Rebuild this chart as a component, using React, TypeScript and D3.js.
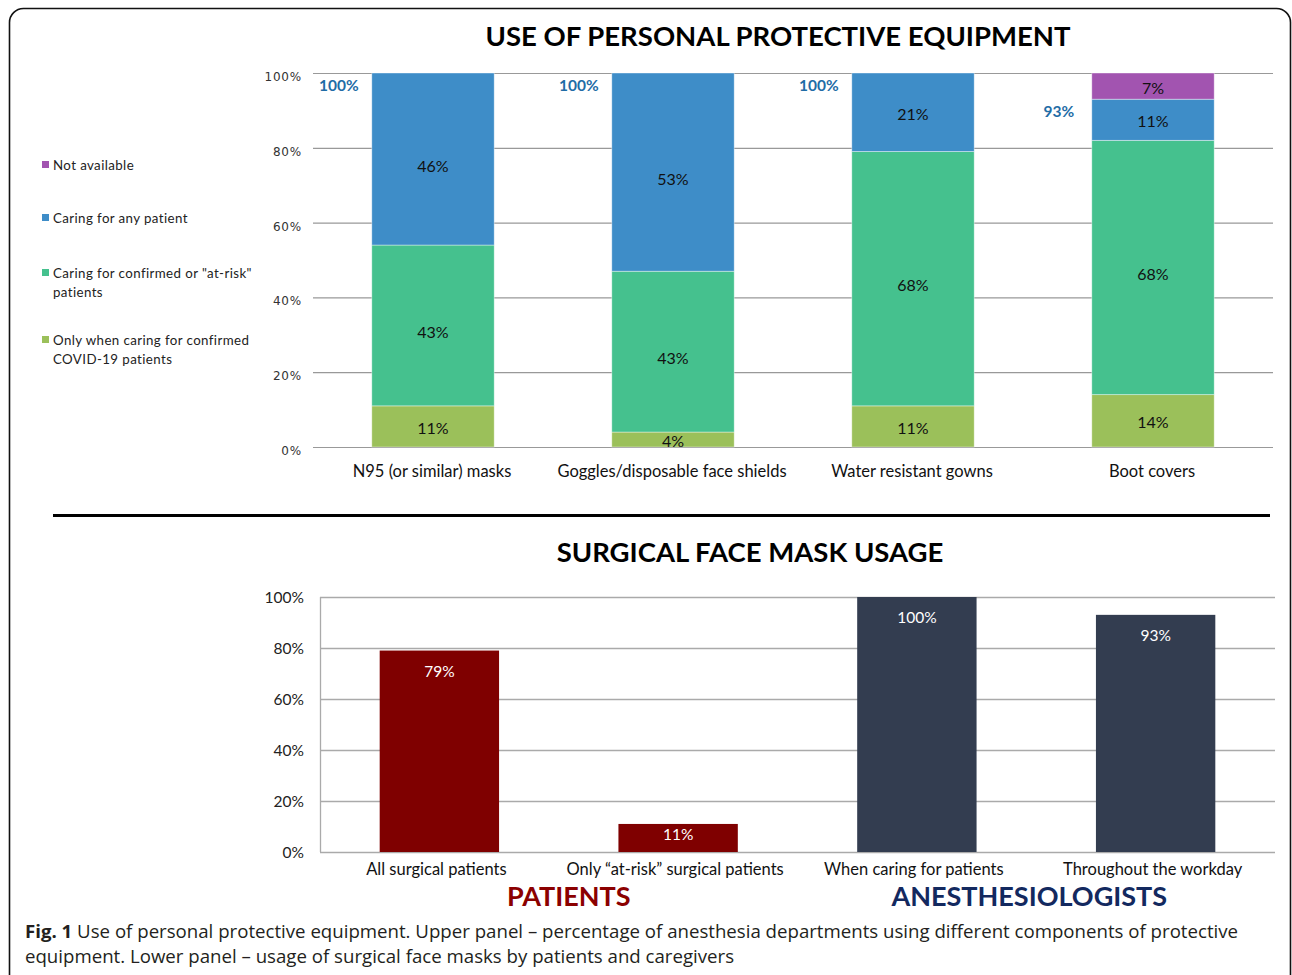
import { useEffect, useRef } from "react"
import * as d3 from "d3"

// upper panel
const ppeCategories = ["N95 (or similar) masks", "Goggles/disposable face shields", "Water resistant gowns", "Boot covers"]
const onlyConfirmed = [11, 4, 11, 14]
const confirmedOrAtRisk = [43, 43, 68, 68]
const anyPatient = [46, 53, 21, 11]
const notAvailable = [0, 0, 0, 7]
const ppeTotals = [100, 100, 100, 93]
const legendLabels = [
  ["Not available"],
  ["Caring for any patient"],
  ['Caring for confirmed or "at-risk"', "patients"],
  ["Only when caring for confirmed", "COVID-19 patients"],
]
const pctTicks = [0, 20, 40, 60, 80, 100]

// lower panel
const maskCategories = ["All surgical patients", "Only \u201cat-risk\u201d surgical patients", "When caring for patients", "Throughout the workday"]
const maskValues = [79, 11, 100, 93]
const maskGroups = ["PATIENTS", "ANESTHESIOLOGISTS"]

const W = 1292
const H = 975
const calibri = "Lato, 'Open Sans', sans-serif"

export default function App() {
  const svgRef = useRef<SVGSVGElement>(null)

  useEffect(() => {
    if (!svgRef.current) return
    const svg = d3.select(svgRef.current)
    svg.selectAll("*").remove()

    // frame
    svg
      .append("rect")
      .attr("x", 9.5)
      .attr("y", 8.5)
      .attr("width", 1281)
      .attr("height", 990)
      .attr("rx", 14)
      .attr("fill", "#fff")
      .attr("stroke", "#111")
      .attr("stroke-width", 1.6)

    // ---------- upper panel: stacked bars ----------
    const x1 = d3.scaleBand().domain(ppeCategories).range([313, 1273]).paddingInner(0.49).paddingOuter(0.245)
    const y1 = d3.scaleLinear().domain([0, 100]).range([447, 73])

    svg
      .append("text")
      .attr("x", 778)
      .attr("y", 46)
      .attr("text-anchor", "middle")
      .attr("font-family", calibri)
      .attr("font-weight", 700)
      .attr("font-size", 27.5)
      .attr("fill", "#000")
      .text("USE OF PERSONAL PROTECTIVE EQUIPMENT")

    const g1 = svg.append("g")
    g1.selectAll("line.grid")
      .data(pctTicks)
      .enter()
      .append("line")
      .attr("x1", 313)
      .attr("x2", 1273)
      .attr("y1", (d) => y1(d) + 0.5)
      .attr("y2", (d) => y1(d) + 0.5)
      .attr("stroke", "#999")
      .attr("stroke-width", 1.2)

    g1.selectAll("text.tick")
      .data(pctTicks)
      .enter()
      .append("text")
      .attr("x", 302)
      .attr("y", (d) => y1(d) + 4)
      .attr("text-anchor", "end")
      .attr("dominant-baseline", "central")
      .attr("font-family", "'DejaVu Sans', sans-serif")
      .attr("font-size", 12)
      .attr("letter-spacing", 0.8)
      .attr("fill", "#333")
      .text((d) => d + "%")

    const series = [
      { key: "notAvailable", values: notAvailable, color: "#A254B0" },
      { key: "anyPatient", values: anyPatient, color: "#3E8DC8" },
      { key: "confirmedOrAtRisk", values: confirmedOrAtRisk, color: "#45C18E" },
      { key: "onlyConfirmed", values: onlyConfirmed, color: "#9BC05A" },
    ]
    const stackOrder = [series[3], series[2], series[1], series[0]]
    const rows = ppeCategories.map((c, i) => {
      const row: any = { cat: c }
      series.forEach((s) => (row[s.key] = s.values[i]))
      return row
    })
    const stacked = d3.stack().keys(stackOrder.map((s) => s.key))(rows)

    stacked.forEach((layer, li) => {
      const color = stackOrder[li].color
      const lg = g1.append("g")
      layer.forEach((seg, i) => {
        const v = seg[1] - seg[0]
        if (v <= 0) return
        const bx = x1(ppeCategories[i])!
        lg.append("rect")
          .attr("x", bx)
          .attr("y", y1(seg[1]))
          .attr("width", x1.bandwidth())
          .attr("height", y1(seg[0]) - y1(seg[1]))
          .attr("fill", color)
          .attr("stroke", "rgba(255,255,255,0.5)")
          .attr("stroke-width", 0.8)
        lg.append("text")
          .attr("x", bx + x1.bandwidth() / 2)
          .attr("y", (y1(seg[0]) + y1(seg[1])) / 2 + (v > 40 ? 6 : 1))
          .attr("text-anchor", "middle")
          .attr("dominant-baseline", "central")
          .attr("font-family", calibri)
          .attr("font-size", 16)
          .attr("fill", "#111")
          .text(v + "%")
      })
    })

    // totals
    g1.selectAll("text.total")
      .data(ppeTotals)
      .enter()
      .append("text")
      .attr("x", (_, i) => x1(ppeCategories[i])! - 33)
      .attr("y", (d) => y1(d) + 12)
      .attr("text-anchor", "middle")
      .attr("dominant-baseline", "central")
      .attr("font-family", calibri)
      .attr("font-weight", 700)
      .attr("font-size", 15.5)
      .attr("fill", "#1F6DA6")
      .text((d) => d + "%")

    g1.selectAll("text.cat")
      .data(ppeCategories)
      .enter()
      .append("text")
      .attr("x", (d) => x1(d)! + x1.bandwidth() / 2 - 1)
      .attr("y", 471)
      .attr("text-anchor", "middle")
      .attr("dominant-baseline", "central")
      .attr("font-family", calibri)
      .attr("font-size", 16.5)
      .attr("fill", "#111")
      .text((d) => d)

    // legend
    const legendY = [165, 218, 273, 340]
    legendLabels.forEach((lines, i) => {
      g1.append("rect")
        .attr("x", 42)
        .attr("y", legendY[i] - 4)
        .attr("width", 7)
        .attr("height", 7)
        .attr("fill", series[i].color)
      lines.forEach((t, j) => {
        g1.append("text")
          .attr("x", 53)
          .attr("y", legendY[i] + j * 19)
          .attr("dominant-baseline", "central")
          .attr("font-family", calibri)
          .attr("font-size", 13.3)
          .attr("letter-spacing", 0.4)
          .attr("fill", "#222")
          .text(t)
      })
    })

    // divider
    svg
      .append("line")
      .attr("x1", 53)
      .attr("x2", 1270)
      .attr("y1", 515.5)
      .attr("y2", 515.5)
      .attr("stroke", "#000")
      .attr("stroke-width", 3)

    // ---------- lower panel: surgical masks ----------
    svg
      .append("text")
      .attr("x", 750)
      .attr("y", 562)
      .attr("text-anchor", "middle")
      .attr("font-family", calibri)
      .attr("font-weight", 700)
      .attr("font-size", 27.5)
      .attr("fill", "#000")
      .text("SURGICAL FACE MASK USAGE")

    const x2 = d3.scaleBand().domain(maskCategories).range([320, 1275]).paddingInner(0.5).paddingOuter(0.25)
    const y2 = d3.scaleLinear().domain([0, 100]).range([852, 597])
    const g2 = svg.append("g")

    g2.selectAll("line.grid")
      .data(pctTicks)
      .enter()
      .append("line")
      .attr("x1", 320)
      .attr("x2", 1275)
      .attr("y1", (d) => y2(d) + 0.5)
      .attr("y2", (d) => y2(d) + 0.5)
      .attr("stroke", "#aaa")
      .attr("stroke-width", 1.3)

    g2.append("line")
      .attr("x1", 320.5)
      .attr("x2", 320.5)
      .attr("y1", y2(100))
      .attr("y2", y2(0))
      .attr("stroke", "#aaa")
      .attr("stroke-width", 1.3)

    g2.selectAll("text.tick")
      .data(pctTicks)
      .enter()
      .append("text")
      .attr("x", 304)
      .attr("y", (d) => y2(d))
      .attr("text-anchor", "end")
      .attr("dominant-baseline", "central")
      .attr("font-family", calibri)
      .attr("font-size", 15.5)
      .attr("fill", "#222")
      .text((d) => d + "%")

    const maskColor = (i: number) => (i < 2 ? "#7F0000" : "#333D50")

    g2.selectAll("rect.bar")
      .data(maskValues)
      .enter()
      .append("rect")
      .attr("x", (_, i) => x2(maskCategories[i])!)
      .attr("y", (d) => y2(d))
      .attr("width", x2.bandwidth())
      .attr("height", (d) => y2(0) - y2(d))
      .attr("fill", (_, i) => maskColor(i))

    g2.selectAll("text.value")
      .data(maskValues)
      .enter()
      .append("text")
      .attr("x", (_, i) => x2(maskCategories[i])! + x2.bandwidth() / 2)
      .attr("y", (d) => y2(d) + Math.min(20, (y2(0) - y2(d)) / 2 - 4))
      .attr("text-anchor", "middle")
      .attr("dominant-baseline", "central")
      .attr("font-family", calibri)
      .attr("font-size", 15.5)
      .attr("fill", "#fff")
      .text((d) => d + "%")

    g2.selectAll("text.cat")
      .data(maskCategories)
      .enter()
      .append("text")
      .attr("x", (d) => x2(d)! + x2.bandwidth() / 2 - 3)
      .attr("y", 869)
      .attr("text-anchor", "middle")
      .attr("dominant-baseline", "central")
      .attr("font-family", calibri)
      .attr("font-size", 16.5)
      .attr("fill", "#111")
      .text((d) => d)

    // group labels, roughly centred under each pair of bars
    const groupShift = [10, -7]
    maskGroups.forEach((gname, gi) => {
      const a = x2(maskCategories[gi * 2])! + x2.bandwidth() / 2
      const b = x2(maskCategories[gi * 2 + 1])! + x2.bandwidth() / 2
      g2.append("text")
        .attr("x", (a + b) / 2 + groupShift[gi])
        .attr("y", 895)
        .attr("text-anchor", "middle")
        .attr("dominant-baseline", "central")
        .attr("font-family", calibri)
        .attr("font-weight", 700)
        .attr("font-size", 27)
        .attr("fill", gi === 0 ? "#8B0000" : "#13295F")
        .text(gname)
    })

    // caption
    const cap = svg
      .append("text")
      .attr("x", 25)
      .attr("y", 938)
      .attr("font-family", "'Open Sans', sans-serif")
      .attr("font-size", 18.65)
      .attr("fill", "#231F20")
    cap.append("tspan").attr("font-weight", 700).text("Fig. 1")
    cap
      .append("tspan")
      .text(" Use of personal protective equipment. Upper panel \u2013 percentage of anesthesia departments using different components of protective")
    svg
      .append("text")
      .attr("x", 25)
      .attr("y", 963)
      .attr("font-family", "'Open Sans', sans-serif")
      .attr("font-size", 18.65)
      .attr("fill", "#231F20")
      .text("equipment. Lower panel \u2013 usage of surgical face masks by patients and caregivers")
  }, [])

  return (
    <svg
      ref={svgRef}
      width={W}
      height={H}
      style={{ position: "absolute", left: 0, top: 0, display: "block", background: "#fff" }}
    />
  )
}
